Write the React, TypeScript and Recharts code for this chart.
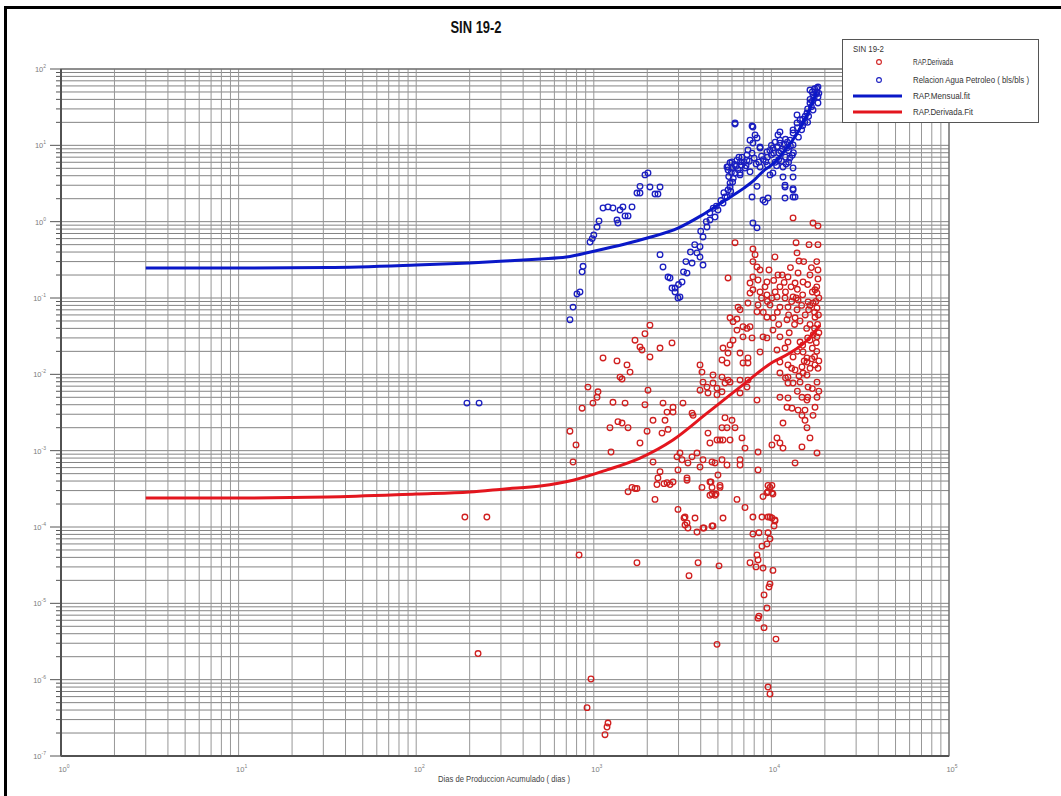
import { ScatterChart, Scatter, XAxis, YAxis, CartesianGrid } from 'recharts';

// days on log axis, ratio on log axis
const xDecades = [1, 10, 100, 1000, 10000];
const yDecades = [1e-7, 1e-6, 1e-5, 1e-4, 1e-3, 1e-2, 1e-1, 1, 10];
const steps = [1, 2, 3, 4, 5, 6, 7, 8, 9];
const xTicks = [...xDecades.flatMap((d) => steps.map((s) => s * d)), 100000];
const yTicks = [...yDecades.flatMap((d) => steps.map((s) => s * d)), 100];

const derivadaPoints: [number, number][] = [
  [188, 1.35e-4], [250, 1.35e-4], [223, 2.2e-6],
  [13240, 1.12], [17150, 0.96], [18290, 0.88],
  [6240, 0.53], [7870, 0.44], [13770, 0.53], [16290, 0.5], [18290, 0.5],
  [8090, 0.37], [10470, 0.345], [13940, 0.39], [14300, 0.305],
  [7870, 0.3], [8300, 0.255], [8630, 0.233], [9690, 0.233],
  [5700, 0.183], [7870, 0.189], [8410, 0.172], [10890, 0.2], [12400, 0.189], [14130, 0.213], [16490, 0.2], [18290, 0.233], [18290, 0.178],
  [9440, 0.162], [7580, 0.157], [7870, 0.128], [8630, 0.12], [11170, 0.14], [13590, 0.157], [15070, 0.162], [17600, 0.128],
  [7580, 0.116], [9440, 0.11], [10070, 0.1], [10750, 0.103], [11930, 0.1], [13240, 0.103], [14130, 0.094], [16080, 0.089], [17150, 0.086], [18060, 0.116],
  [7380, 0.086], [8410, 0.081], [9820, 0.081], [11170, 0.076], [12400, 0.076], [13940, 0.07], [18060, 0.074],
  [6490, 0.076], [6660, 0.07], [8300, 0.066], [9440, 0.056], [10200, 0.055], [12240, 0.052], [13590, 0.055], [17600, 0.056],
  [5850, 0.055], [6400, 0.053], [6080, 0.049], [6920, 0.042], [7290, 0.04], [7580, 0.042], [6400, 0.038], [10200, 0.038],
  [6080, 0.028], [6920, 0.031], [7780, 0.03], [8970, 0.031], [9440, 0.03], [11170, 0.031], [12400, 0.0265], [14500, 0.0265], [16490, 0.028], [18060, 0.031],
  [2071, 0.044], [1941, 0.034], [1706, 0.028], [2756, 0.0258], [1820, 0.0228], [1868, 0.0208], [2360, 0.0221], [2071, 0.0169], [1127, 0.0164], [1351, 0.015], [1538, 0.0133], [1600, 0.0107], [1405, 0.0092], [1442, 0.0087],
  [5340, 0.0221], [5700, 0.019], [5850, 0.0243], [6660, 0.019], [7380, 0.0164], [8630, 0.0196], [10750, 0.0208], [11930, 0.0221], [13240, 0.0169], [15070, 0.0196], [15860, 0.0164],
  [5270, 0.0154], [5623, 0.0141], [6920, 0.0141], [7380, 0.0141], [11170, 0.0145], [12400, 0.0133], [13590, 0.0114], [14860, 0.0125], [15860, 0.0145], [17600, 0.0133],
  [3963, 0.0133], [4064, 0.0107], [4690, 0.0098], [5270, 0.0092], [5700, 0.0084], [6660, 0.0084], [7380, 0.0084], [11170, 0.0104], [12400, 0.0092], [15070, 0.0104], [15860, 0.0098],
  [4120, 0.0079], [4337, 0.0068], [4690, 0.0077], [4940, 0.0066], [5480, 0.0077], [5850, 0.0079], [7290, 0.0068], [12400, 0.0077], [13240, 0.0077], [14500, 0.0079], [16080, 0.0068], [18060, 0.0079],
  [3963, 0.0062], [4395, 0.0057], [4940, 0.0054], [5270, 0.0059], [6660, 0.0057], [8300, 0.0046], [11170, 0.005], [12400, 0.0049], [14860, 0.005], [15860, 0.0046], [18060, 0.005],
  [927, 0.0068], [1056, 0.0059], [1043, 0.005], [989, 0.0042], [859, 0.0036], [1282, 0.0043], [1500, 0.0042], [1941, 0.004], [2019, 0.0062], [2453, 0.0042], [2793, 0.0037], [3177, 0.0042], [2793, 0.0032], [2584, 0.0032],
  [12240, 0.0037], [13060, 0.0036], [14130, 0.0034], [15460, 0.0034], [17600, 0.0037], [17150, 0.0029], [14860, 0.0029], [15460, 0.0025], [15860, 0.002],
  [3574, 0.0031], [3622, 0.0029], [2518, 0.0025], [2155, 0.0025], [2618, 0.0019], [2421, 0.0017], [1995, 0.0018], [1820, 0.00126], [1368, 0.0024], [1442, 0.0023], [1559, 0.002], [1233, 0.002], [734, 0.0018], [794, 0.00119], [764, 0.00071], [1250, 0.00096],
  [5480, 0.0027], [6000, 0.0025], [5623, 0.002], [5270, 0.002], [6240, 0.002], [5340, 0.00138], [4940, 0.00138], [5136, 0.00138], [4508, 0.00126], [4395, 0.0017], [5850, 0.00138], [6830, 0.00147], [7100, 0.00108], [8410, 0.00096], [10070, 0.00119], [10750, 0.00147], [11170, 0.00126], [11620, 0.00108], [14860, 0.00112], [16490, 0.00147], [13590, 0.00069], [18060, 0.00093], [11620, 0.0023],
  [2155, 0.00071], [2360, 0.00053], [2297, 0.00044], [2584, 0.00038], [2687, 0.00036], [2793, 0.00039], [3348, 0.00044], [2941, 0.00083], [3056, 0.00093], [3139, 0.00076], [2979, 0.00056], [3389, 0.00069], [3574, 0.00083], [3811, 0.00093], [3963, 0.00061], [4120, 0.00076], [4630, 0.00071], [4812, 0.00069], [5270, 0.00076], [5623, 0.00065], [6660, 0.00076], [6660, 0.00065], [8410, 0.00056], [5002, 0.00048], [4508, 0.00039], [5136, 0.00033], [4064, 0.00033], [4508, 0.00026], [4812, 0.00026], [6400, 0.00023], [7100, 0.00018], [2211, 0.00023], [1641, 0.00033], [1559, 0.00029], [1706, 0.00032], [2979, 0.00017], [3263, 0.000135], [3348, 0.000113], [4120, 9.7e-5], [4630, 0.000103], [5340, 0.000131], [7870, 0.000135], [8850, 0.000135], [9820, 0.000135], [10470, 0.000124], [9820, 0.00033], [9440, 0.00028], [8970, 0.00025], [10070, 0.00028],
  [1750, 0.00032], [2268, 0.00036], [2485, 0.00037], [3348, 0.00041], [4570, 0.00039], [4630, 0.00033], [5136, 0.00035], [4630, 0.00027], [4875, 0.00027], [9570, 0.00035], [10070, 0.00035], [9570, 0.00029], [10200, 0.00027],
  [3221, 0.000131], [3715, 0.000131], [3263, 0.000106], [3389, 9.7e-5], [3811, 8.6e-5], [4171, 9.7e-5], [4690, 0.000103], [9570, 0.000135], [10070, 0.000131], [10470, 0.00012], [10350, 0.000103],
  [7870, 8.1e-5], [8510, 8.4e-5], [9570, 8.4e-5], [9820, 7.0e-5], [8850, 5.6e-5], [9440, 6.0e-5],
  [826, 4.3e-5], [1750, 3.4e-5], [3864, 3.4e-5], [5070, 3.1e-5], [3436, 2.3e-5],
  [8300, 4.3e-5], [8410, 3.7e-5], [7580, 3.4e-5], [8190, 3.0e-5], [8970, 2.9e-5], [10200, 2.7e-5], [9820, 1.8e-5], [9690, 1.64e-5], [9090, 1.29e-5], [9440, 8.7e-6], [8510, 6.8e-6], [8410, 6.4e-6], [9090, 4.8e-6], [10610, 3.4e-6], [4940, 2.9e-6],
  [964, 1.02e-6], [916, 4.3e-7], [1202, 2.7e-7], [1187, 2.4e-7], [1156, 1.9e-7], [9570, 8.0e-7], [9820, 6.5e-7],
  [12000, 0.12], [13000, 0.09], [14000, 0.13], [15000, 0.11], [16000, 0.15], [17000, 0.12], [18000, 0.14], [16500, 0.08], [17500, 0.065], [18500, 0.1],
  [12500, 0.06], [13500, 0.045], [14500, 0.05], [15500, 0.06], [16500, 0.045], [17500, 0.04], [18500, 0.035], [11000, 0.045], [9000, 0.065], [10500, 0.12],
  [9500, 0.09], [11500, 0.2], [12800, 0.25], [15200, 0.3], [16800, 0.25], [18000, 0.3], [14000, 0.02], [15000, 0.024], [16000, 0.03], [17000, 0.022],
  [18000, 0.02], [18500, 0.015], [17500, 0.017], [16500, 0.012], [12000, 0.009], [13000, 0.012], [14000, 0.006], [16000, 0.005], [17000, 0.0065], [18500, 0.006],
  [16200, 0.07], [17800, 0.09], [18400, 0.06], [15800, 0.04], [17200, 0.033], [18200, 0.045], [14800, 0.08], [13800, 0.1], [12900, 0.14], [11800, 0.16],
  [10300, 0.17], [9200, 0.14], [8800, 0.1], [10800, 0.065], [12600, 0.035], [17900, 0.026], [16900, 0.016], [15300, 0.015], [18300, 0.012], [14300, 0.0095],
];

const relacionPoints: [number, number][] = [
  [193, 0.0042], [226, 0.0042],
  [734, 0.052], [764, 0.076], [804, 0.113], [836, 0.12], [859, 0.22], [870, 0.26], [952, 0.54], [980, 0.6], [1000, 0.67], [1043, 0.85], [1070, 1.02],
  [1127, 1.51], [1202, 1.56], [1282, 1.51], [1405, 1.42], [1459, 1.56], [1500, 1.19], [1559, 1.19], [1368, 0.96], [1351, 1.05], [1641, 1.56],
  [1750, 2.37], [1820, 2.37], [1820, 2.9], [1941, 4.1], [2019, 4.35], [2071, 2.85], [2211, 2.3], [2297, 2.3], [2360, 2.85],
  [2360, 0.37], [2453, 0.255], [2618, 0.188], [2756, 0.135], [2866, 0.12], [2979, 0.1], [3056, 0.103], [3139, 0.162], [3348, 0.212], [3574, 0.287],
  [3811, 0.39], [3963, 0.47], [4120, 0.63], [4337, 0.85], [4508, 1.05], [4812, 1.15], [5002, 1.42], [5340, 1.75], [5623, 2.1], [5700, 2.6], [5850, 3.2],
  [2687, 0.183], [2866, 0.135], [4120, 0.27], [3963, 0.344], [3000, 0.15], [3200, 0.22], [3300, 0.3], [3500, 0.4], [3700, 0.5], [4000, 0.75],
  [4300, 1.0], [4500, 1.3], [4700, 1.5], [4900, 1.6], [5200, 1.9], [5400, 2.4], [5480, 2.1], [5850, 2.85],
  [5700, 5.2], [6000, 6.05], [6400, 6.4], [6830, 7.0], [7290, 7.5], [7780, 7.9], [7870, 10.7], [8300, 12.5], [7780, 17.9], [6240, 19.6], [6240, 19],
  [7870, 17.4], [8090, 13.7], [7580, 11.7], [8630, 9.5], [9440, 8.2], [10200, 9.2], [11170, 10.7], [12240, 9.2], [13240, 10.1], [11170, 15.0],
  [10890, 13.7], [13240, 14.5], [13940, 19.6], [14500, 21.5], [15860, 26.5], [16490, 35.9], [17150, 45.6], [18060, 50], [18290, 35.9], [18290, 58],
  [16490, 53], [18290, 43], [17150, 29], [13940, 25], [13240, 15.9], [12730, 11.7], [11170, 11.7], [8630, 9.2], [7380, 8.7], [6560, 7.0],
  [5850, 5.9], [5700, 4.75], [6240, 4.35], [6660, 4.1], [7580, 4.5], [8630, 5.2], [9820, 4.1], [10200, 4.35], [11620, 5.2], [13240, 5.05],
  [13240, 3.85], [11930, 3.0], [13240, 2.6], [13240, 2.1], [11930, 2.04], [9200, 1.81], [9570, 2.04], [8300, 2.9], [7780, 2.1], [8970, 1.92],
  [11620, 3.85], [13590, 2.1], [11930, 2.85], [13240, 2.7], [7870, 0.96], [8300, 0.83], [5623, 5.2], [6000, 5.05], [6660, 4.35], [7100, 5.05], [7290, 6.4],
  [9000, 6.5], [9500, 7], [10000, 7.5], [10500, 6], [11000, 8], [11500, 9], [12000, 7], [12500, 8.5], [10000, 10], [10500, 11], [11000, 6.5],
  [12000, 12], [12500, 6], [9500, 5.5], [8500, 6], [8000, 6.8], [7500, 6.2], [7000, 6.0], [6800, 5.5], [6500, 4.8], [6200, 5.6], [6300, 5.3],
  [15000, 22], [15500, 24], [16000, 30], [16500, 40], [17000, 50], [17500, 55], [18000, 56], [17000, 38], [16000, 20], [15000, 18], [14000, 17], [18500, 48],
  [9800, 8.6], [10300, 7.9], [10800, 9.6], [11300, 8.4], [11800, 10.2], [12300, 11], [12800, 9.8], [13300, 8], [9300, 6.1], [10700, 5.4],
  [11400, 6.2], [12100, 5.7], [12700, 6.8], [13100, 7.4], [8800, 7.2], [8200, 5.7], [7200, 5.4], [6700, 6.1], [5950, 4.4], [6100, 3.7],
  [5750, 3.9], [5900, 2.5], [6050, 3.3], [14200, 12.8], [14800, 16], [15400, 20], [16200, 24], [16800, 32], [17400, 42], [17800, 47],
];

const mensualFit: [number, number][] = [
  [3, 0.247], [10, 0.247], [31.6, 0.25], [100, 0.27], [200, 0.288], [316, 0.305], [500, 0.325], [700, 0.344],
  [1000, 0.41], [1500, 0.51], [2000, 0.61], [3000, 0.83], [4000, 1.19], [5000, 1.65], [6000, 2.17], [7000, 2.75],
  [8000, 3.5], [9000, 4.6], [10000, 5.5], [12000, 8.7], [14000, 14.5], [16000, 26], [18000, 50],
];

const derivadaFit: [number, number][] = [
  [3, 2.4e-4], [10, 2.4e-4], [31.6, 2.47e-4], [100, 2.7e-4], [200, 2.87e-4], [316, 3.15e-4], [500, 3.45e-4],
  [764, 4.1e-4], [1187, 5.6e-4], [1820, 8.0e-4], [2790, 1.38e-3], [4340, 3.1e-3], [6660, 6.8e-3],
  [10200, 0.0145], [12700, 0.019], [15900, 0.028], [18800, 0.044],
];

const RED = '#d01f1f';
const BLUE = '#1a1ec0';
const RED_FIT = '#e3161e';
const BLUE_FIT = '#0a18c8';
const FONT = 'Liberation Sans, Arial, sans-serif';

const toRows = (pts: [number, number][]) => pts.map(([x, y]) => ({ x, y }));

const isDecade = (v: number) => {
  const e = Math.log10(v);
  return Math.abs(e - Math.round(e)) < 1e-6;
};

function YTick(props: any) {
  const { x, y, payload } = props;
  const major = isDecade(payload.value);
  const e = Math.round(Math.log10(payload.value));
  return (
    <g>
      <line x1={x - (major ? 11 : 5)} x2={x} y1={y} y2={y} stroke="#555" strokeWidth={1} />
      {major && (
        <text x={x - 15} y={y + 3} textAnchor="end" fontSize={7.5} fill="#7c7c7c" fontFamily={FONT}>
          10<tspan dy={-4} fontSize={5}>{e}</tspan>
        </text>
      )}
    </g>
  );
}

function XTick(props: any) {
  const { x, y, payload } = props;
  if (!isDecade(payload.value)) return <g />;
  const e = Math.round(Math.log10(payload.value));
  return (
    <text x={x + 3} y={y + 16} textAnchor="middle" fontSize={7.5} fill="#7c7c7c" fontFamily={FONT}>
      10<tspan dy={-4} fontSize={5}>{e}</tspan>
    </text>
  );
}

const ring = (color: string) => (p: any) =>
  <circle cx={p.cx} cy={p.cy} r={2.8} fill="none" stroke={color} strokeWidth={1.3} />;

export default function App() {
  return (
    <div style={{ position: 'absolute', left: 0, top: 0, width: 1061, height: 796, background: '#fff', overflow: 'hidden' }}>
      <ScatterChart width={1061} height={796} margin={{ top: 69, right: 112, bottom: 10, left: 21 }}>
        <CartesianGrid stroke="#848484" vertical={false} />
        <CartesianGrid stroke="#979797" horizontal={false} />
        <XAxis
          type="number"
          dataKey="x"
          scale="log"
          domain={[1, 100000]}
          ticks={xTicks}
          interval={0}
          allowDataOverflow
          height={30}
          tickSize={0}
          tickMargin={0}
          tickLine={false}
          axisLine={{ stroke: '#4a4a4a', strokeWidth: 2 }}
          tick={(p: any) => <XTick {...p} />}
        />
        <YAxis
          type="number"
          dataKey="y"
          scale="log"
          domain={[1e-7, 100]}
          ticks={yTicks}
          interval={0}
          allowDataOverflow
          width={40}
          tickSize={0}
          tickMargin={0}
          tickLine={false}
          axisLine={{ stroke: '#4a4a4a', strokeWidth: 2 }}
          tick={(p: any) => <YTick {...p} />}
        />
        <Scatter data={toRows(derivadaPoints)} shape={ring(RED)} isAnimationActive={false} />
        <Scatter data={toRows(relacionPoints)} shape={ring(BLUE)} isAnimationActive={false} />
        <Scatter
          data={toRows(mensualFit)}
          line={{ stroke: BLUE_FIT, strokeWidth: 3 }}
          lineType="joint"
          lineJointType="monotoneX"
          shape={() => <g />}
          isAnimationActive={false}
        />
        <Scatter
          data={toRows(derivadaFit)}
          line={{ stroke: RED_FIT, strokeWidth: 3 }}
          lineType="joint"
          lineJointType="monotoneX"
          shape={() => <g />}
          isAnimationActive={false}
        />
      </ScatterChart>

      <svg width={1061} height={796} style={{ position: 'absolute', left: 0, top: 0, pointerEvents: 'none' }} fontFamily={FONT}>
        <rect x={61} y={69} width={888} height={687} fill="none" stroke="#5a5a5a" strokeWidth={1} />
        <line x1={5.5} x2={5.5} y1={6} y2={796} stroke="#000" strokeWidth={3} />
        <line x1={4} x2={1061} y1={7.5} y2={7.5} stroke="#000" strokeWidth={3} />

        <text x={476} y={33} textAnchor="middle" fontSize={16} fontWeight="bold" fill="#111" textLength={51} lengthAdjust="spacingAndGlyphs">
          SIN 19-2
        </text>
        <text x={504} y={782} textAnchor="middle" fontSize={9} fill="#444" textLength={132} lengthAdjust="spacingAndGlyphs">
          Dias de Produccion Acumulado ( dias )
        </text>

        <rect x={842.5} y={39.5} width={196} height={83} fill="#fff" stroke="#555" strokeWidth={1} />
        <text x={853} y={52} fontSize={9} fill="#333" textLength={31} lengthAdjust="spacingAndGlyphs">SIN 19-2</text>
        <circle cx={879} cy={62} r={2.4} fill="none" stroke={RED} strokeWidth={1.1} />
        <text x={913} y={65} fontSize={9} fill="#333" textLength={40} lengthAdjust="spacingAndGlyphs">RAP.Derivada</text>
        <circle cx={879} cy={80} r={2.4} fill="none" stroke={BLUE} strokeWidth={1.1} />
        <text x={913} y={83} fontSize={9} fill="#333" textLength={116} lengthAdjust="spacingAndGlyphs">Relacion Agua Petroleo ( bls/bls )</text>
        <line x1={853} x2={902} y1={96} y2={96} stroke={BLUE_FIT} strokeWidth={3} />
        <text x={913} y={99} fontSize={9} fill="#333" textLength={57} lengthAdjust="spacingAndGlyphs">RAP.Mensual.fit</text>
        <line x1={853} x2={902} y1={112} y2={112} stroke={RED_FIT} strokeWidth={3} />
        <text x={913} y={115} fontSize={9} fill="#333" textLength={60} lengthAdjust="spacingAndGlyphs">RAP.Derivada.Fit</text>
      </svg>
    </div>
  );
}
